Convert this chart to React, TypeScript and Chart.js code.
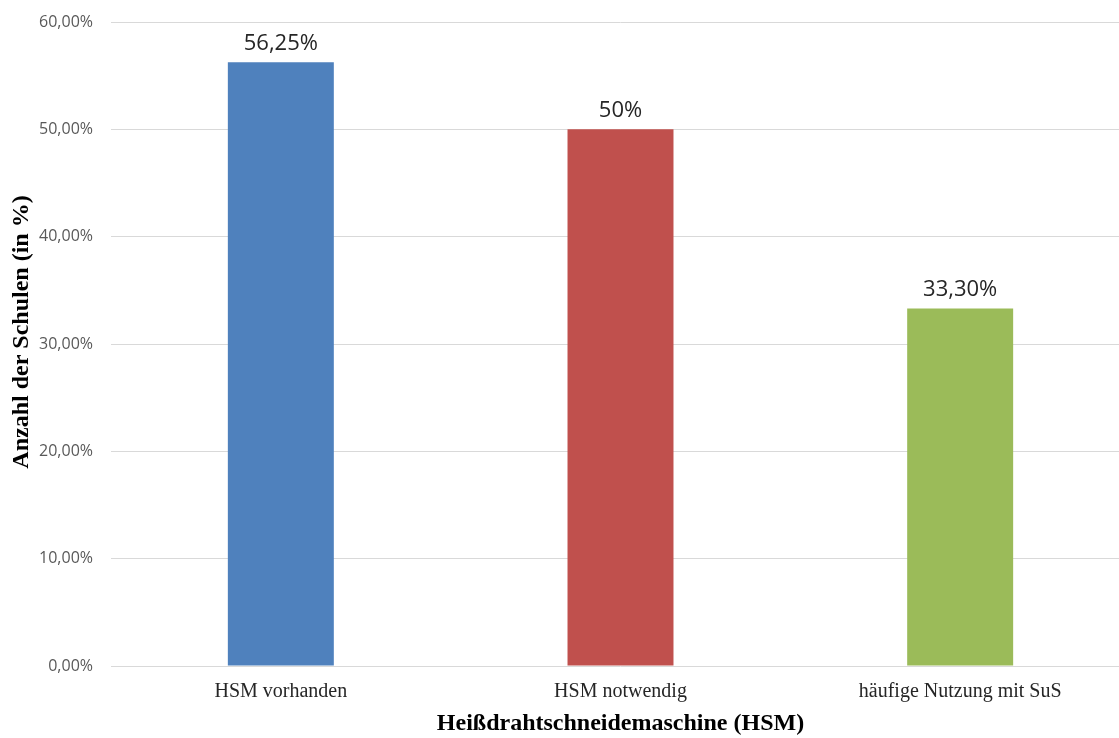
import React, { useEffect, useRef } from "react";
import { Chart, registerables } from "chart.js";

Chart.register(...registerables);

const categories = ["HSM vorhanden", "HSM notwendig", "häufige Nutzung mit SuS"];
const values = [56.25, 50, 33.3];
const valueLabels = ["56,25%", "50%", "33,30%"];
const barColors = ["#4f81bd", "#c0504d", "#9bbb59"];
const yTicks = [0, 10, 20, 30, 40, 50, 60];
const yTitle = "Anzahl der Schulen (in %)";
const xTitle = "Heißdrahtschneidemaschine (HSM)";

const serif = "'Liberation Serif', 'DejaVu Serif', serif";
const sans = "'Open Sans', 'Noto Sans', sans-serif";

// Writes the value text centred above each bar
const barValueLabels = {
  id: "barValueLabels",
  afterDatasetsDraw(chart: any) {
    const { ctx } = chart;
    const meta = chart.getDatasetMeta(0);
    ctx.save();
    ctx.font = `22px ${sans}`;
    ctx.fillStyle = "#262626";
    ctx.textAlign = "center";
    ctx.textBaseline = "bottom";
    meta.data.forEach((bar: any, i: number) => {
      ctx.fillText(valueLabels[i], bar.x, bar.y - 8);
    });
    ctx.restore();
  },
};

// Vertical axis title, set slightly above the middle of the plot area
const verticalTitle = {
  id: "verticalTitle",
  afterDraw(chart: any) {
    const { ctx, chartArea } = chart;
    const cy = (chartArea.top + chartArea.bottom) / 2 - 12;
    ctx.save();
    ctx.translate(22, cy);
    ctx.rotate(-Math.PI / 2);
    ctx.font = `bold 24px ${serif}`;
    ctx.fillStyle = "#000000";
    ctx.textAlign = "center";
    ctx.textBaseline = "middle";
    ctx.fillText(yTitle, 0, 0);
    ctx.restore();
  },
};

export default function App() {
  const canvasRef = useRef<HTMLCanvasElement | null>(null);

  useEffect(() => {
    if (!canvasRef.current) return;
    const chart = new Chart(canvasRef.current, {
      type: "bar",
      data: {
        labels: categories,
        datasets: [
          {
            data: values,
            backgroundColor: barColors,
            barPercentage: 0.624,
            categoryPercentage: 0.5,
          },
        ],
      },
      options: {
        animation: false,
        responsive: false,
        layout: { padding: { top: 22, right: 0, left: 4, bottom: 0 } },
        plugins: {
          legend: { display: false },
          tooltip: { enabled: false },
        },
        scales: {
          x: {
            grid: { display: false },
            border: { display: false },
            afterFit: (scale: any) => {
              scale.height = 72;
              scale.paddingLeft = 0;
              scale.paddingRight = 0;
            },
            ticks: {
              color: "#262626",
              font: { family: serif, size: 20 },
              padding: 6,
            },
            title: {
              display: true,
              text: xTitle,
              color: "#000000",
              font: { family: serif, size: 24, weight: "bold" },
              padding: { top: 5, bottom: 0 },
            },
          },
          y: {
            min: 0,
            max: 60,
            afterBuildTicks: (axis: any) => {
              axis.ticks = yTicks.map((v) => ({ value: v }));
            },
            afterFit: (scale: any) => {
              scale.width = 107;
              scale.paddingTop = 0;
              scale.paddingBottom = 0;
            },
            grid: { color: "#d9d9d9", lineWidth: 1, drawTicks: false },
            border: { display: false },
            ticks: {
              color: "#595959",
              font: { family: sans, size: 16 },
              padding: 18,
              callback: (v: any) => `${Number(v).toFixed(2).replace(".", ",")}%`,
            },
            title: { display: false },
          },
        },
      },
      plugins: [barValueLabels, verticalTitle],
    });
    return () => chart.destroy();
  }, []);

  return (
    <div
      style={{
        position: "fixed",
        left: 0,
        top: 0,
        width: 1119,
        height: 738,
        overflow: "hidden",
        background: "#fff",
      }}
    >
      <canvas ref={canvasRef} width={1130} height={738} />
    </div>
  );
}
